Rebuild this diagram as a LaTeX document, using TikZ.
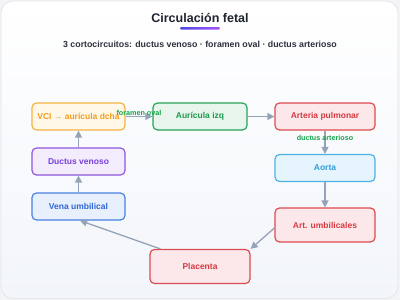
\documentclass[tikz,border=0pt]{standalone}
\usepackage{fontspec}
\setmainfont{Liberation Sans}
\usetikzlibrary{arrows.meta,calc}
\definecolor{bgout}{HTML}{F3F4F6}
\definecolor{cardedge}{HTML}{E3E6EB}
\definecolor{cardbot}{HTML}{F2F5FA}
\definecolor{titlec}{HTML}{1F2430}
\definecolor{subc}{HTML}{2B303B}
\definecolor{arrowc}{HTML}{94A3B8}
\definecolor{lblc}{HTML}{16A34A}
\definecolor{orD}{HTML}{F5B342}\definecolor{orT}{HTML}{F29E1B}\definecolor{orF}{HTML}{FFF7E8}
\definecolor{grD}{HTML}{27A35A}\definecolor{grT}{HTML}{1E9A4E}\definecolor{grF}{HTML}{E8F5EC}
\definecolor{rdD}{HTML}{DC4B50}\definecolor{rdT}{HTML}{D63A3F}\definecolor{rdF}{HTML}{FCE8EB}
\definecolor{skD}{HTML}{4DB3E6}\definecolor{skT}{HTML}{2E9DDB}\definecolor{skF}{HTML}{E6F4FD}
\definecolor{puD}{HTML}{9057E0}\definecolor{puT}{HTML}{7A3FD9}\definecolor{puF}{HTML}{F3ECFD}
\definecolor{blD}{HTML}{4A80E3}\definecolor{blT}{HTML}{2F66D6}\definecolor{blF}{HTML}{E8EFFD}
\definecolor{barA}{HTML}{4F46E5}\definecolor{barB}{HTML}{A855F7}
\tikzset{
  box/.style={draw, line width=1.2pt, rounded corners=4.5pt, minimum height=27pt,
    inner sep=0pt, font=\fontsize{8.5}{10}\selectfont\bfseries},
  orbox/.style={box, draw=orD, fill=orF, text=orT, minimum width=93pt},
  grbox/.style={box, draw=grD, fill=grF, text=grT, minimum width=94pt},
  rdbox/.style={box, draw=rdD, fill=rdF, text=rdT, minimum width=100pt},
  skbox/.style={box, draw=skD, fill=skF, text=skT, minimum width=100pt},
  pubox/.style={box, draw=puD, fill=puF, text=puT, minimum width=93pt},
  blbox/.style={box, draw=blD, fill=blF, text=blT, minimum width=93pt},
  conn/.style={draw=arrowc, line width=1.3pt, -{Triangle[length=7pt,width=7pt]}},
  lbl/.style={text=lblc, font=\fontsize{7.2}{8}\selectfont\bfseries, inner sep=0pt}
}
\begin{document}
\begin{tikzpicture}[x=1pt,y=-1pt]
\fill[bgout] (0,0) rectangle (400,300);
\useasboundingbox (0,0) rectangle (400,300);
\shade[top color=white, bottom color=cardbot, draw=cardedge, line width=0.8pt, rounded corners=12pt]
  (1,1) rectangle (398,298.5);
\node[text=titlec, font=\fontsize{12.5}{14}\selectfont\bfseries] (title) at (200,18) {Circulación fetal};
\shade[left color=barA, right color=barB, rounded corners=1.2pt] (180,27) rectangle (220,29.5);
\node[text=subc, font=\fontsize{8.8}{10}\selectfont\bfseries] (sub) at (200,44.5)
  {3 cortocircuitos: ductus venoso · foramen oval · ductus arterioso};

\node[orbox] (vci) at (78.5,116.5) {VCI → aurícula dcha};
\node[grbox] (ai) at (200,116.5) {Aurícula izq};
\node[rdbox] (ap) at (325,116.5) {Arteria pulmonar};
\node[skbox] (ao) at (325,168) {Aorta};
\node[rdbox, minimum height=34pt] (au) at (325,225) {Art. umbilicales};
\node[rdbox, minimum height=34pt] (pla) at (200,266.5) {Placenta};
\node[blbox] (vu) at (78.5,206.5) {Vena umbilical};
\node[pubox] (dv) at (78.5,161.5) {Ductus venoso};

\draw[conn] (vci) -- (ai) node[lbl, midway, above=0.5pt] (fo) {foramen oval};
\draw[conn] (ai) -- (ap);
\draw[conn] (ap) -- (ao) node[lbl, pos=0.3] (da) {ductus arterioso};
\draw[conn] (ao) -- (au);
\draw[conn] ($(au.west)+(0,3)$) -- (pla.north east);
\draw[conn] ($(pla.north west)+(11,0)$) -- ($(vu.south)+(1.5,0)$);
\draw[conn] (vu) -- (dv);
\draw[conn] (dv) -- (vci);
\end{tikzpicture}
\end{document}
